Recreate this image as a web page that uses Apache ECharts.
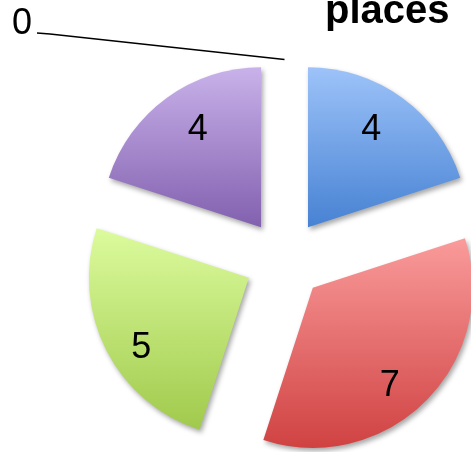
<!DOCTYPE html>
<html><head><meta charset="utf-8">
<script src="https://cdn.jsdelivr.net/npm/echarts@6/dist/echarts.min.js"></script>
<style>html,body{margin:0;padding:0;background:#fff}#c{width:471px;height:452px}</style>
</head><body><div id="c"></div>
<script>
const titleText = 'places';
const categories = ['Category 1', 'Category 2', 'Category 3', 'Category 4', 'Category 5'];
const values = [4, 7, 5, 4, 0];

const topColors = ['#9DC3F9', '#FA9B9B', '#DCFB9D', '#C9B2EA', '#9DC3F9'];
const bottomColors = ['#4782D3', '#D04242', '#A0CA4C', '#8260AF', '#4782D3'];
const labelOffsets = [[-9, 2], [-10, 11], [2, 15], [9, 2], [0, 0]];

const chart = echarts.init(document.getElementById('c'), null, {renderer: 'canvas'});
const font = "'Liberation Sans', Arial, sans-serif";
const center = [284.5, 259.5];
const radius = 160;
const explode = 40;

function grad(i) {
  return new echarts.graphic.LinearGradient(0, 0, 0, 1, [
    {offset: 0, color: topColors[i]},
    {offset: 1, color: bottomColors[i]}
  ]);
}

const mainData = categories.map((c, i) => ({
  name: c,
  value: values[i],
  selected: values[i] !== 0,
  itemStyle: {color: grad(i)},
  label: {show: values[i] === 0},
  labelLine: {show: values[i] === 0}
}));

const labelData = categories.map((c, i) => ({
  name: c,
  value: values[i],
  label: {show: values[i] !== 0}
}));

chart.setOption({
  animation: false,
  backgroundColor: '#fff',
  title: {
    text: titleText,
    left: 325,
    top: -8,
    padding: 0,
    textStyle: {fontFamily: font, fontWeight: 'bold', fontSize: 40, color: '#000'}
  },
  series: [
    {
      type: 'pie',
      center: center,
      radius: radius,
      startAngle: 90,
      clockwise: true,
      selectedMode: 'multiple',
      selectedOffset: explode,
      avoidLabelOverlap: false,
      emphasis: {disabled: true},
      itemStyle: {
        shadowBlur: 5,
        shadowOffsetX: 2,
        shadowOffsetY: 3,
        shadowColor: 'rgba(0,0,0,0.35)'
      },
      label: {
        position: 'outside',
        formatter: '{c}',
        fontFamily: font,
        fontSize: 36,
        color: '#000'
      },
      labelLine: {
        show: true,
        length: 10,
        length2: 10,
        lineStyle: {color: '#000', width: 1.5}
      },
      labelLayout: function (params) {
        if (params.dataIndex !== 4) return {};
        const start = [center[0], center[1] - radius - explode];
        return {
          x: 12,
          y: 24,
          align: 'left',
          verticalAlign: 'middle',
          labelLinePoints: [start, [50, 34], [37, 33]]
        };
      },
      data: mainData
    },
    {
      type: 'pie',
      center: center,
      radius: 2 * radius,
      startAngle: 90,
      clockwise: true,
      silent: true,
      emphasis: {disabled: true},
      itemStyle: {color: 'rgba(0,0,0,0)'},
      label: {
        position: 'inside',
        formatter: '{c}',
        fontFamily: font,
        fontSize: 36,
        color: '#000'
      },
      labelLine: {show: false},
      labelLayout: function (params) {
        const o = labelOffsets[params.dataIndex] || [0, 0];
        return {dx: o[0], dy: o[1]};
      },
      data: labelData
    }
  ]
});
</script>
</body></html>
